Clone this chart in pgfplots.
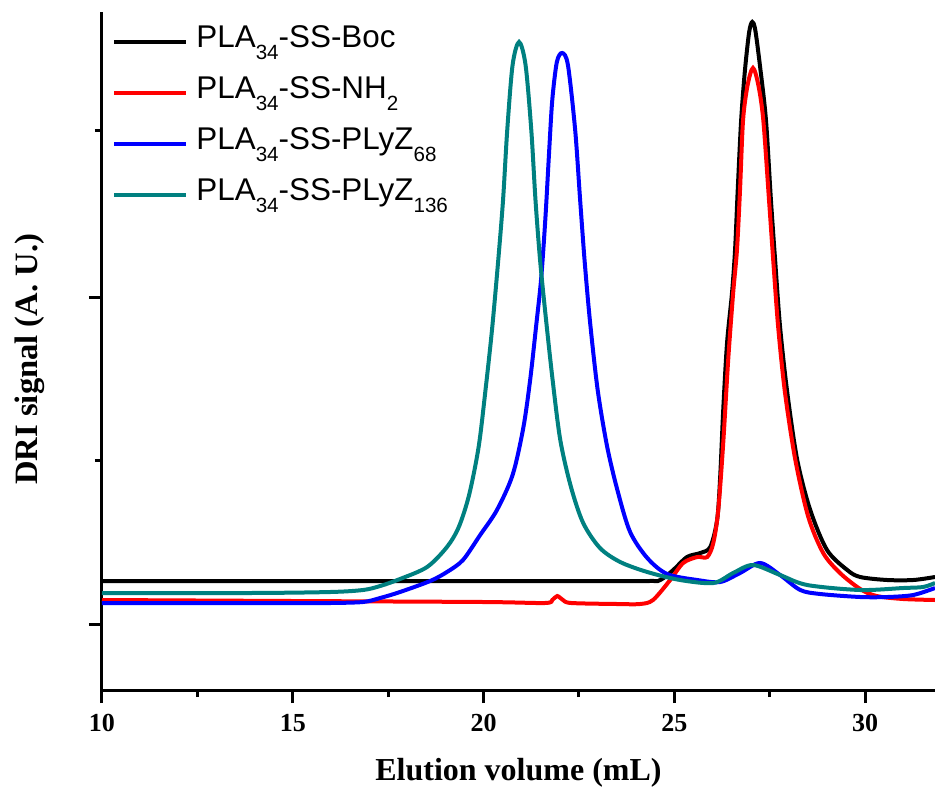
\documentclass[border=0pt]{standalone}
\usepackage{fontspec}
\setmainfont{Liberation Serif}
\newfontfamily\arial{Liberation Sans}
\usepackage{pgfplots}
\pgfplotsset{compat=1.18}
\definecolor{teal}{RGB}{0,128,128}
\newcommand\sub[1]{\raisebox{-0.38em}{\fontsize{10.3}{10.3}\selectfont #1}}

\begin{document}
\begin{tikzpicture}
\begin{axis}[
  scale only axis,
  width=416.5pt, height=339pt,
  xmin=10, xmax=31.83, ymin=0, ymax=678,
  axis x line*=bottom, axis y line*=left,
  axis line style={line width=1.5pt},
  xtick={10,15,20,25,30},
  minor xtick={12.5,17.5,22.5,27.5},
  ytick={66,393}, minor ytick={230,559},
  yticklabels={},
  tick align=outside,
  major tick length=6.5pt, minor tick length=3.5pt,
  every tick/.style={line width=1.5pt, black},
  /pgf/number format/assume math mode=true,
  tick label style={font=\bfseries\fontsize{13}{13}\selectfont},
  xticklabel style={yshift=-2pt},
  xlabel={Elution volume (mL)},
  ylabel={DRI signal (A. U.)},
  xlabel style={font=\bfseries\fontsize{16}{16}\selectfont,
    at={(axis description cs:0.5,0)}, anchor=center, yshift=-41.5pt},
  ylabel style={font=\bfseries\fontsize{16.3}{16.3}\selectfont,
    at={(axis description cs:-0.0864,0.488)}, anchor=center},
  legend cell align=left,
  legend image code/.code={\draw[#1] (0pt,0pt) -- (36pt,0pt);},
  legend style={at={(axis description cs:0,1)}, anchor=north west,
    draw=none, fill=none, xshift=5pt, yshift=-5.5pt, inner sep=0pt,
    column sep=4pt, row sep=6.5pt,
    nodes={inner sep=0pt, text height=12pt, text depth=7pt},
    font=\arial\fontsize{15.7}{18}\selectfont},
  every axis plot/.append style={line width=2pt, smooth, tension=0.5},
]
\addplot[black] coordinates {
  (10,109)(14,109)(18,109)(22,109)(24.3,109)(24.63,110)(24.97,120)(25.33,133)
  (25.68,137)(25.94,143)(26.12,170)(26.20,213)(26.28,280)(26.38,347)(26.51,397)
  (26.59,440)(26.66,500)(26.75,570)(26.85,620)(26.96,658)(27.04,668)(27.12,660)
  (27.25,622)(27.40,570)(27.53,490)(27.64,430)(27.77,363)(27.96,297)(28.22,230)
  (28.56,180)(29.00,140)(29.53,120)(29.87,113)(30.58,110)(31.26,110)(31.83,113)
};
\addlegendentry{PLA\sub{34}-SS-Boc}
\addplot[red] coordinates {
  (10,90)(15,89)(20,88)(21.6,87)(21.80,90)(21.93,94)(22.08,90)(22.3,87)(23.5,86)
  (24.10,86)(24.44,90)(24.89,110)(25.23,127)(25.60,133)(25.86,133)(26.02,147)
  (26.15,180)(26.28,247)(26.41,330)(26.54,397)(26.64,440)(26.72,500)(26.80,570)
  (26.92,605)(27.06,622)(27.20,605)(27.33,570)(27.48,490)(27.59,430)(27.72,363)
  (27.90,297)(28.17,230)(28.51,173)(28.90,137)(29.34,117)(29.87,101)(30.3,94)
  (31.0,91)(31.83,90)
};
\addlegendentry{PLA\sub{34}-SS-NH\sub{2}}
\addplot[blue] coordinates {
  (10,87)(15,87)(15.98,87)(16.84,88)(17.29,92)(17.81,98)(18.60,109)(19.04,118)
  (19.46,130)(19.91,155)(20.35,180)(20.76,215)(21.04,262)(21.22,310)(21.38,365)
  (21.51,412)(21.62,472)(21.72,540)(21.80,590)(21.92,628)(22.06,637)(22.21,625)
  (22.40,560)(22.53,490)(22.65,428)(22.79,368)(22.99,300)(23.24,243)(23.52,198)
  (23.84,158)(24.29,132)(24.81,116)(25.60,110)(26.20,108)(26.72,117)(27.25,127)
  (27.77,115)(28.30,100)(28.82,96)(29.87,93)(30.58,93)(31.26,95)(31.83,102)
};
\addlegendentry{PLA\sub{34}-SS-PLyZ\sub{68}}
\addplot[teal] coordinates {
  (10,97)(13.88,97)(15.98,98)(16.84,100)(17.29,104)(17.81,111)(18.52,123)
  (19.04,143)(19.35,163)(19.62,195)(19.87,243)(20.05,300)(20.22,360)(20.38,428)
  (20.51,490)(20.62,560)(20.76,625)(20.93,648)(21.10,625)(21.25,560)(21.36,490)
  (21.48,430)(21.61,380)(21.80,313)(22.01,250)(22.29,203)(22.61,167)(23.05,142)
  (23.58,128)(24.29,118)(25.15,110)(26.02,107)(26.54,117)(27.06,125)(27.77,115)
  (28.48,105)(29.87,100)(31.00,102)(31.52,103)(31.83,107)
};
\addlegendentry{PLA\sub{34}-SS-PLyZ\sub{136}}
\end{axis}
\pgfresetboundingbox
\path (current axis.south west) ++(-51pt,-49pt) rectangle ++(467.5pt,394pt);
\end{tikzpicture}
\end{document}
